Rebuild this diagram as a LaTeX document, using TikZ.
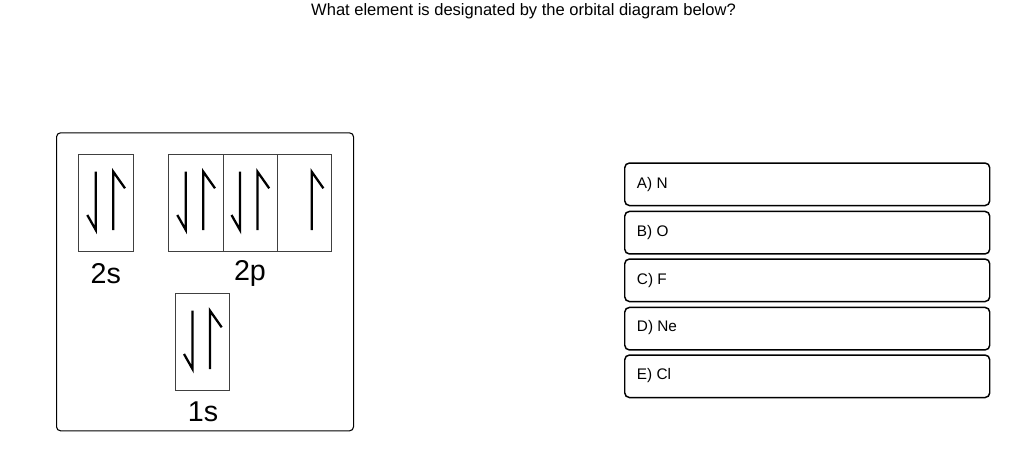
\documentclass[tikz,border=0pt]{standalone}
\usepackage{fontspec}
\setmainfont{Liberation Sans}
\begin{document}
\begin{tikzpicture}[x=0.75pt,y=-0.75pt,
  orb/.style={draw=black!75,line width=0.75pt,anchor=north west,inner sep=0pt,
    minimum width=54.4*0.75pt,minimum height=96.7*0.75pt},
  outerbox/.style={draw=black,line width=0.8pt,rounded corners=3pt,anchor=north west,inner sep=0pt,
    minimum width=297*0.75pt,minimum height=298*0.75pt},
  ansbox/.style={draw=black,line width=1.1pt,rounded corners=3.5pt,anchor=north west,inner sep=0pt,
    minimum width=365*0.75pt,minimum height=42.5*0.75pt},
  anstext/.style={anchor=west,inner sep=0pt,font=\fontsize{11.5pt}{13pt}\selectfont},
  orblabel/.style={inner sep=0pt,font=\fontsize{21.5pt}{24pt}\selectfont},
  spin/.style={line width=1.7pt,line cap=butt,line join=miter},
  pics/downarrow/.style={code={\draw[spin] (17.5,17.4)--(17.5,75.7)--(9,60.7);}},
  pics/uparrow/.style={code={\draw[spin] (46.7,34)--(35,17.4)--(35,75.7);}}
]
\useasboundingbox (0,0) rectangle (1024,471);
\node[inner sep=0pt,font=\fontsize{12.4pt}{14pt}\selectfont] (title) at (523.5,11) {What element is designated by the orbital diagram below?};

\node[outerbox] (outer) at (56,132.3) {};
\node[orb] (s2) at (78.3,154.3) {};
\node[orb] (p1) at (168.3,154.3) {};
\node[orb] (p2) at (222.5,154.3) {};
\node[orb] (p3) at (276.7,154.3) {};
\node[orb] (s1) at (175,293.3) {};

\pic at (s2.north west) {downarrow};
\pic at (s2.north west) {uparrow};
\pic at (p1.north west) {downarrow};
\pic at (p1.north west) {uparrow};
\pic at (p2.north west) {downarrow};
\pic at (p2.north west) {uparrow};
\pic at (p3.north west) {uparrow};
\pic at (s1.north west) {downarrow};
\pic at (s1.north west) {uparrow};

\node[orblabel] (l2s) at (105.8,273.3) {2s};
\node[orblabel] (l2p) at (250,273.3) {2p};
\node[orblabel] (l1s) at (203,411.7) {1s};

\node[ansbox] (a) at (624,162.3) {};
\node[ansbox] (b) at (624,210.7) {};
\node[ansbox] (c) at (624,258.3) {};
\node[ansbox] (d) at (624,306.7) {};
\node[ansbox] (e) at (624,354.3) {};
\node[anstext] (ta) at (636.7,185) {A) N};
\node[anstext] (tb) at (636.7,232.5) {B) O};
\node[anstext] (tc) at (636.7,280.5) {C) F};
\node[anstext] (td) at (636.7,328) {D) Ne};
\node[anstext] (te) at (636.7,376) {E) Cl};
\end{tikzpicture}
\end{document}
